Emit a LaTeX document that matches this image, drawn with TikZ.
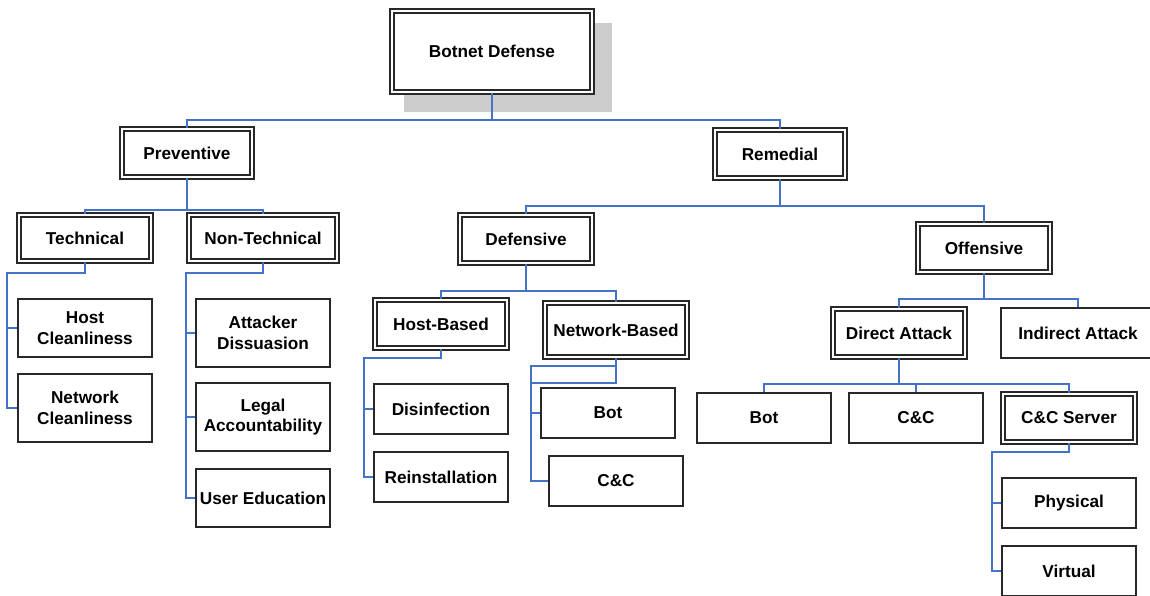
\documentclass[tikz,border=0pt]{standalone}
\usepackage{fontspec}
\setmainfont{Liberation Sans}
\usetikzlibrary{calc}
\pgfdeclarelayer{bg}
\pgfsetlayers{bg,main}
\definecolor{linkblue}{RGB}{68,114,196}
\definecolor{boxline}{RGB}{40,40,40}

\begin{document}
\begin{tikzpicture}[x=1pt,y=-1pt,
  every node/.style={font=\fontsize{17.2}{20.7}\selectfont\bfseries, align=center, inner sep=0pt},
  sbox/.style={draw=boxline, line width=1.5pt, fill=white},
  dbox/.style={draw=boxline, line width=1.8pt, double=white, double distance=2pt, fill=white},
  conn/.style={draw=linkblue, line width=1.7pt},
]
\useasboundingbox (0,0) rectangle (1150,595);

% ---- root ----
\node[dbox, minimum width=200, minimum height=81] (root) at (492,51.5) {Botnet Defense};
\begin{pgfonlayer}{bg}
  \fill[black!20] ([shift={(13,13)}]root.north west) rectangle ([shift={(19,19)}]root.south east);
\end{pgfonlayer}

% ---- level 1 ----
\node[dbox, minimum width=130, minimum height=48] (prev) at (187,153) {Preventive};
\node[dbox, minimum width=130, minimum height=48] (rem)  at (780,154) {Remedial};

% ---- preventive branch ----
\node[dbox, minimum width=132, minimum height=46] (tech)    at (85,238)  {Technical};
\node[dbox, minimum width=148, minimum height=46] (nontech) at (263,238) {Non-Technical};
\node[sbox, minimum width=134, minimum height=58] (hostc) at (85,328)  {Host\\Cleanliness};
\node[sbox, minimum width=134, minimum height=68] (netc)  at (85,408)  {Network\\Cleanliness};
\node[sbox, minimum width=134, minimum height=68] (attk)  at (263,333) {Attacker\\Dissuasion};
\node[sbox, minimum width=134, minimum height=68] (legal) at (263,417) {Legal\\Accountability};
\node[sbox, minimum width=134, minimum height=58] (user)  at (263,498) {User Education};

% ---- defensive branch ----
\node[dbox, minimum width=132, minimum height=48] (def)  at (526,239) {Defensive};
\node[dbox, minimum width=132, minimum height=48] (host) at (441,324) {Host-Based};
\node[dbox, minimum width=142, minimum height=54] (net)  at (616,330) {Network-Based};
\node[sbox, minimum width=134, minimum height=50] (disinf) at (441,409) {Disinfection};
\node[sbox, minimum width=134, minimum height=50] (reinst) at (441,477) {Reinstallation};
\node[sbox, minimum width=134, minimum height=50] (nbot)   at (608,413) {Bot};
\node[sbox, minimum width=134, minimum height=50] (ncc)    at (616,481) {C\&C};

% ---- offensive branch ----
\node[dbox, minimum width=132, minimum height=48] (off)    at (984,248)  {Offensive};
\node[dbox, minimum width=132, minimum height=48] (direct) at (899,333)  {Direct Attack};
\node[sbox, minimum width=154, minimum height=50] (indir)  at (1078,333) {Indirect Attack};
\node[sbox, minimum width=134, minimum height=50] (obot)   at (764,418)  {Bot};
\node[sbox, minimum width=134, minimum height=50] (occ)    at (916,418)  {C\&C};
\node[dbox, minimum width=132, minimum height=48] (server) at (1069,418) {C\&C Server};
\node[sbox, minimum width=134, minimum height=50] (phys)   at (1069,503) {Physical};
\node[sbox, minimum width=134, minimum height=50] (virt)   at (1069,571) {Virtual};

% ---- connectors ----
\draw[conn] (root.south) -- ++(0,27) coordinate (j0) -| (prev.north);
\draw[conn] (j0) -| (rem.north);

\draw[conn] (prev.south) -- ++(0,32) coordinate (j1) -| (tech.north);
\draw[conn] (j1) -| (nontech.north);

\draw[conn] (rem.south) -- ++(0,27) coordinate (j2) -| (def.north);
\draw[conn] (j2) -| (off.north);

\draw[conn] (tech.south) -- ++(0,11) -| ([shift={(-10,0)}]netc.west) -- (netc.west);
\draw[conn] ([shift={(-10,0)}]hostc.west) -- (hostc.west);

\draw[conn] (nontech.south) -- ++(0,11) -| ([shift={(-9,0)}]user.west) -- (user.west);
\draw[conn] ([shift={(-9,0)}]attk.west) -- (attk.west);
\draw[conn] ([shift={(-9,0)}]legal.west) -- (legal.west);

\draw[conn] (def.south) -- ++(0,27) coordinate (j3) -| (host.north);
\draw[conn] (j3) -| (net.north);

\draw[conn] (host.south) -- ++(0,9) -| ([shift={(-9,0)}]reinst.west) -- (reinst.west);
\draw[conn] ([shift={(-9,0)}]disinf.west) -- (disinf.west);

\draw[conn] ([shift={(0,8)}]net.south) -| ([shift={(-17,0)}]ncc.west) -- (ncc.west);
\draw[conn] (net.south) -- ++(0,25) -| ([shift={(-9,0)}]nbot.west) -- (nbot.west);

\draw[conn] (off.south) -- ++(0,26) coordinate (j4) -| (direct.north);
\draw[conn] (j4) -| (indir.north);

\draw[conn] (direct.south) -- ++(0,26) coordinate (j5) -| (obot.north);
\draw[conn] (j5) -| (occ.north);
\draw[conn] (j5) -| (server.north);

\draw[conn] (server.south) -- ++(0,9) -| ([shift={(-9,0)}]virt.west) -- (virt.west);
\draw[conn] ([shift={(-9,0)}]phys.west) -- (phys.west);
\end{tikzpicture}
\end{document}
